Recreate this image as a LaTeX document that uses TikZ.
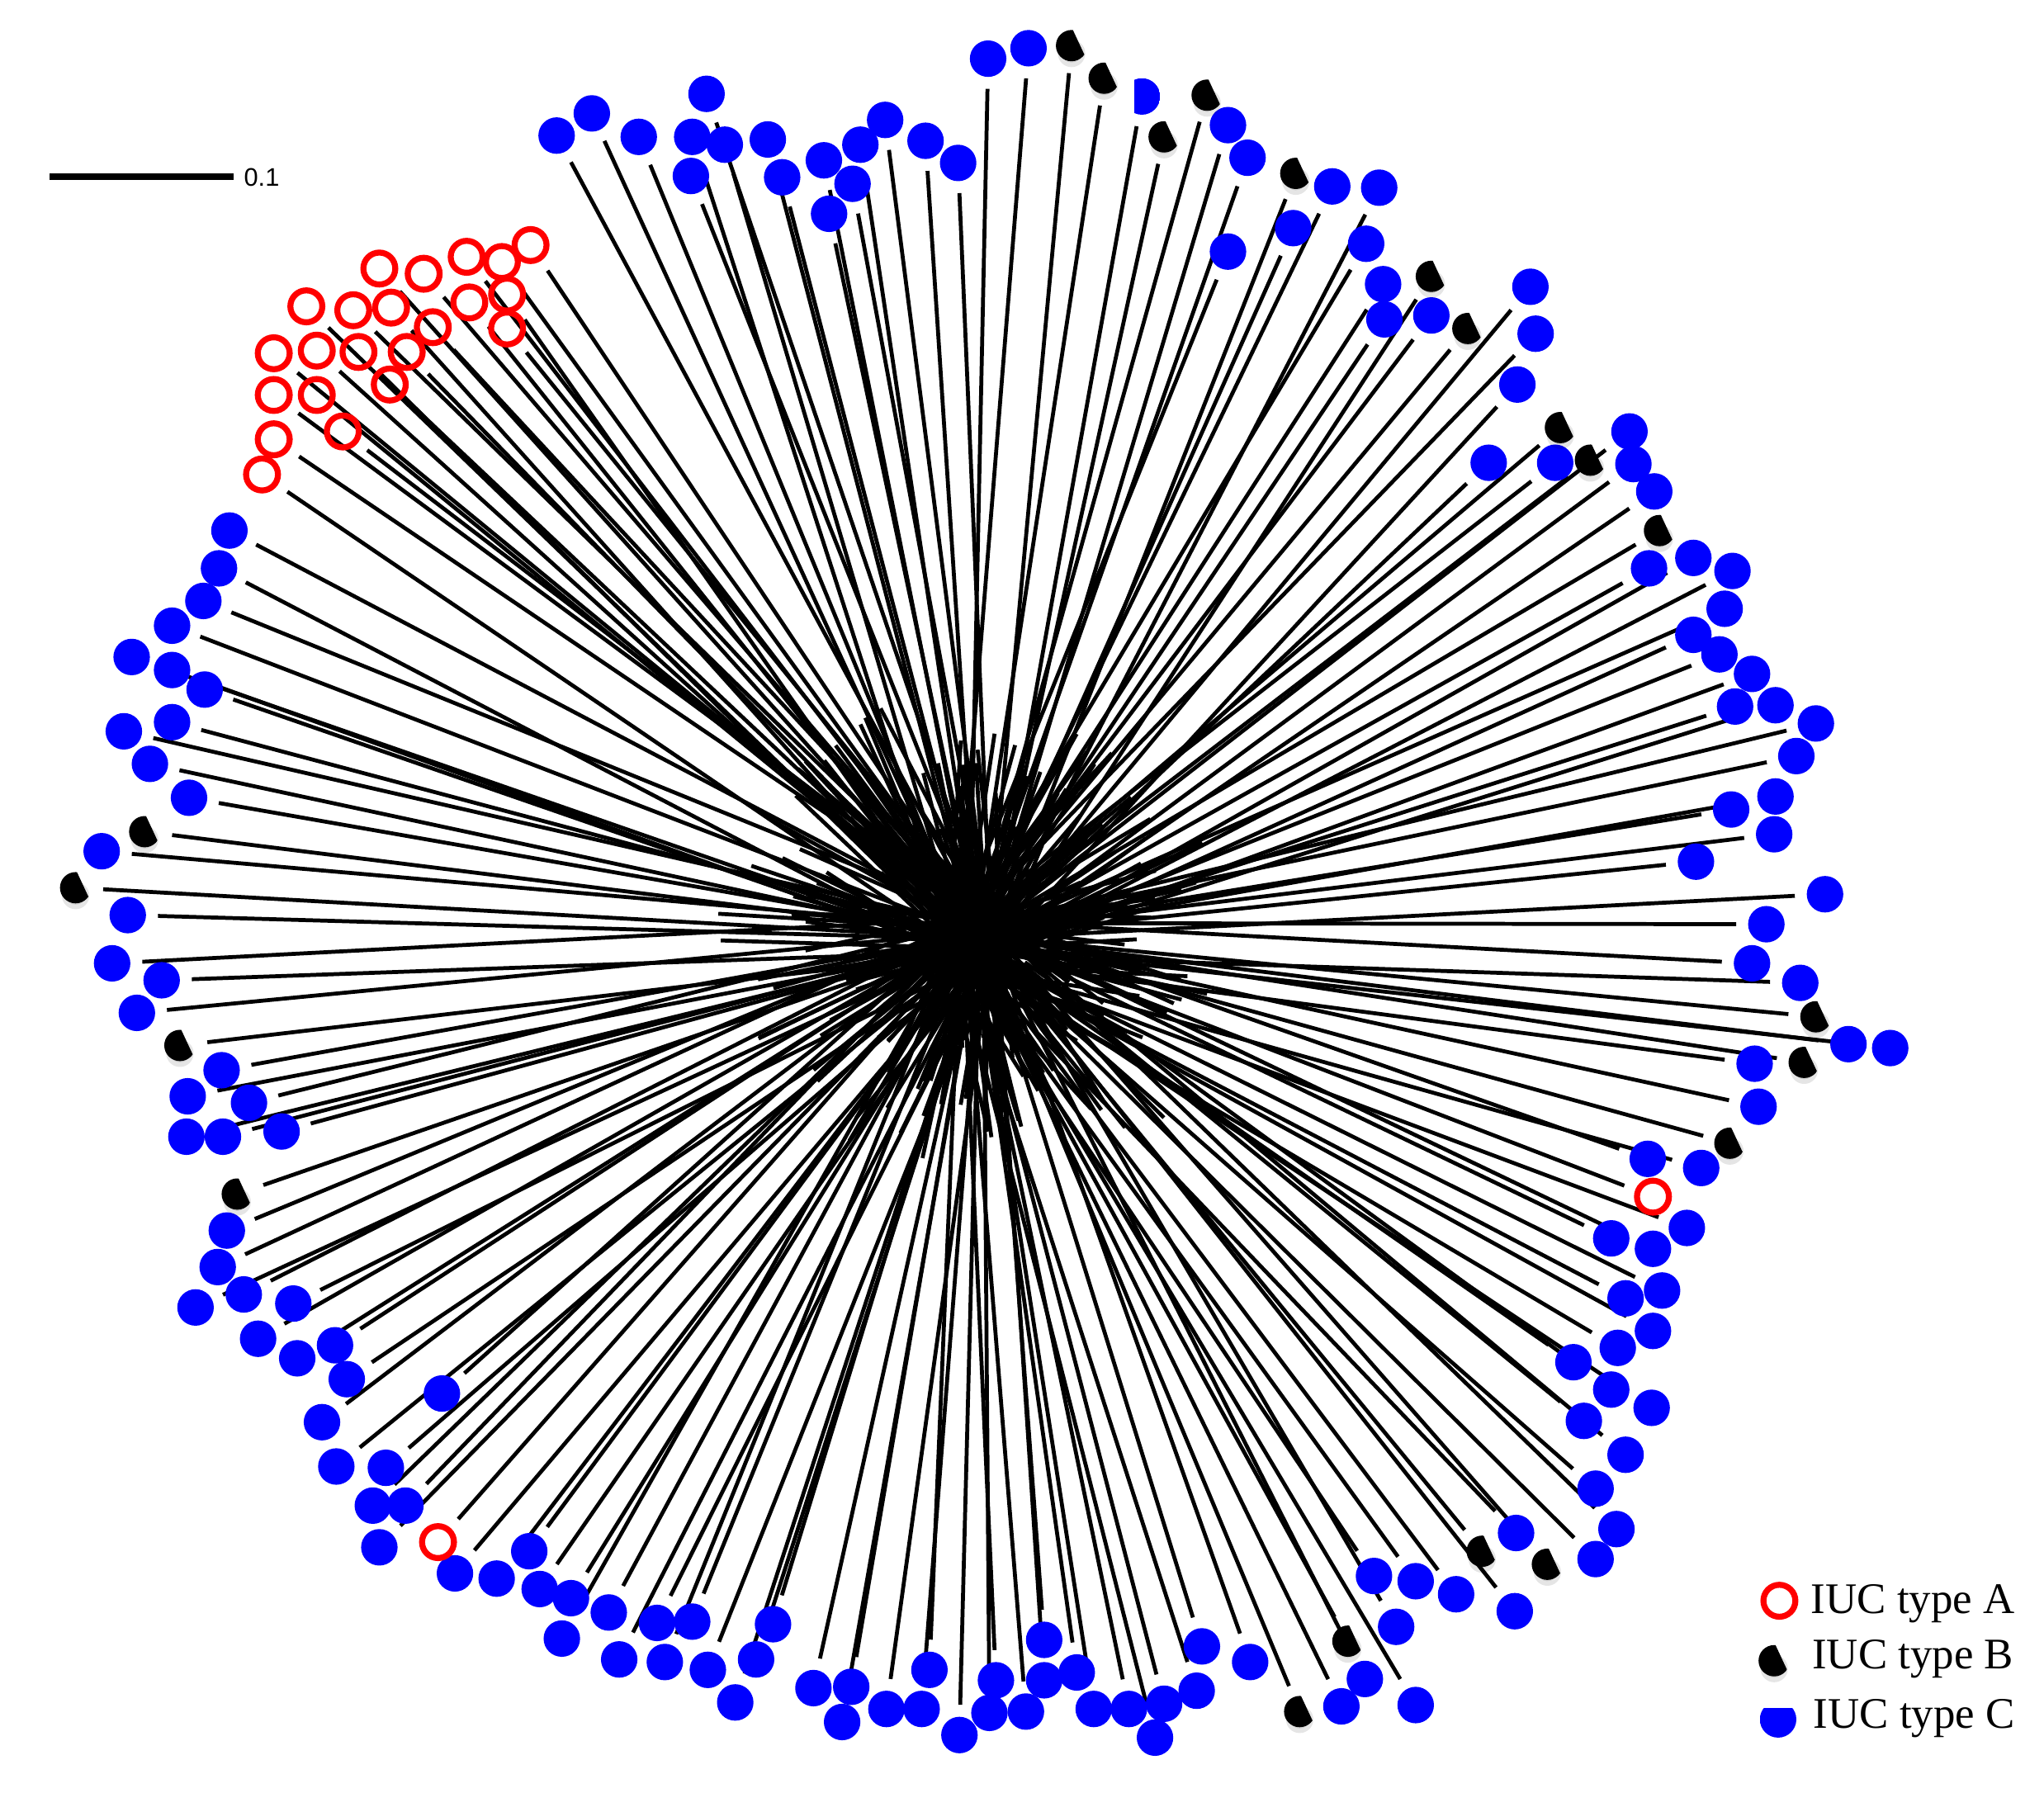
\documentclass[tikz,border=0pt]{standalone}
\usepackage{fontspec}
\setmainfont{Liberation Serif}
\newfontfamily\labsans{Liberation Sans}
\usetikzlibrary{calc}
\pgfdeclarelayer{background}
\pgfsetlayers{background,main}
\definecolor{blueC}{RGB}{0,0,255}
\definecolor{redA}{RGB}{255,0,0}
\tikzset{
  typeA/.style={circle,draw=redA,line width=4.6pt,minimum size=24.5pt,inner sep=0pt},
  typeC/.style={circle,fill=blueC,minimum size=28pt,inner sep=0pt},
  typeB/.style={circle,minimum size=24pt,inner sep=0pt,
    path picture={\fill[black]
      ($(path picture bounding box.center)+(85:12pt)$) --
      ($(path picture bounding box.center)+(-35:12pt)$) --
      ($(path picture bounding box.center)+(-80:40pt)$) --
      ($(path picture bounding box.center)+(200:40pt)$) --
      ($(path picture bounding box.center)+(140:40pt)$) -- cycle;}},
  typeCD/.style={circle,minimum size=28pt,inner sep=0pt,
    path picture={\fill[blueC] ([xshift=-6pt]path picture bounding box.south) rectangle (path picture bounding box.north east);}},
  typeCtop/.style={circle,minimum size=28pt,inner sep=0pt,
    path picture={\fill[blueC] (path picture bounding box.south west) rectangle ([yshift=-5pt]path picture bounding box.north east);}},
  shadowB/.style={fill=black,opacity=0.10},
  branch/.style={line width=3pt,shorten >=9pt},
  webline/.style={line width=3pt},
  legtext/.style={anchor=base west,inner sep=0pt,font=\fontsize{33.5}{40}\selectfont}
}
\newcommand\leafline[1]{%
  \pgfmathsetmacro\fa{-0.08+0.16*rnd}%
  \pgfmathsetmacro\da{18*rand}%
  \pgfmathsetmacro\fb{-0.04+0.08*rnd}%
  \pgfmathsetmacro\fc{0.1+0.2*rnd}%
  \pgfmathsetmacro\db{\da+(rand>0?7:-7)}%
  \begin{pgfonlayer}{background}
    \draw[branch] ($(ctr)!\fa!(#1)!\da pt!90:(#1)$) -- (#1);
    \draw[webline] ($(ctr)!\fb!(#1)!\db pt!90:(#1)$) -- ($(ctr)!\fc!(#1)!\db pt!90:(#1)$);
  \end{pgfonlayer}}
\begin{document}
\begin{tikzpicture}[x=1pt,y=-1pt]
\useasboundingbox (0,0) rectangle (1568,1375);
\coordinate (ctr) at (748,722);
\pgfmathsetseed{7}
% type C leaves
\foreach \x/\y [count=\i] in {758/45, 789/37, 942/96, 957/121, 1022/143, 1058/144, 942/193, 992/175, 1048/187, 1061/218, 1062/245, 1098/242, 1174/220, 1178/256, 1164/295, 1142/355, 1193/355, 1250/331, 1253/356, 1269/377, 1265/436, 1299/428, 1329/438, 1323/467, 1299/487, 1319/502, 1344/517, 1331/542, 1362/541, 1393/555, 1378/580, 1362/611, 1328/621, 1361/640, 1301/661, 1400/686, 1355/709, 1344/739, 1381/754, 1418/801, 1450/804, 1346/816, 1349/849, 1305/896, 1264/889, 1294/942, 1236/950, 1268/958, 1275/990, 1247/996, 1268/1021, 1241/1034, 1207/1045, 1236/1066, 1267/1080, 1215/1090, 1247/1116, 1224/1142, 1240/1173, 1224/1196, 1163/1176, 1162/1236, 1117/1223, 1086/1213, 1054/1209, 1071/1248, 1047/1288, 1086/1308, 1029/1309, 959/1275, 922/1263, 918/1297, 893/1307, 886/1333, 866/1311, 839/1311, 826/1283, 801/1258, 801/1289, 787/1313, 759/1314, 764/1289, 736/1331, 713/1281, 707/1311, 680/1311, 646/1321, 653/1294, 624/1295, 593/1246, 580/1273, 564/1306, 543/1281, 531/1244, 504/1245, 510/1275, 475/1273, 467/1237, 438/1226, 431/1257, 414/1219, 406/1190, 381/1211, 349/1207, 291/1187, 286/1155, 311/1155, 296/1126, 258/1125, 247/1091, 266/1058, 257/1032, 228/1042, 198/1027, 225/1000, 187/993, 150/1003, 167/972, 174/944, 216/868, 191/846, 171/872, 143/872, 170/821, 144/841, 105/777, 124/752, 86/739, 98/702, 78/653, 145/612, 115/586, 95/561, 132/554, 157/529, 132/514, 101/504, 132/480, 156/461, 168/436, 176/407, 339/1069, 427/104, 454/87, 490/105, 542/72, 531/105, 556/111, 589/107, 530/135, 600/136, 632/123, 660/111, 679/92, 654/141, 636/164, 710/108, 735/125}{
  \node[typeC] (c\i) at (\x,\y) {};
  \leafline{c\i}
}
\node[typeCD] (cd) at (876,74) {};
\leafline{cd}
% type A leaves
\foreach \x/\y [count=\i] in {407/188, 385/201, 358/197, 325/210, 291/206, 389/226, 360/232, 389/252, 332/251, 300/236, 271/238, 235/235, 312/270, 275/270, 243/269, 210/271, 299/295, 243/303, 210/303, 263/331, 210/337, 201/364, 1268/918, 336/1183}{
  \node[typeA] (a\i) at (\x,\y) {};
  \leafline{a\i}
}
% type B leaves
\foreach \x/\y [count=\i] in {822/35, 847/60, 926/73, 893/105, 994/133, 1098/212, 1126/252, 1197/328, 1220/353, 1273/407, 1393/780, 1384/815, 1327/877, 1137/1190, 1187/1200, 1034/1259, 997/1313, 111/638, 58/681, 138/802, 182/916}{
  \fill[shadowB] ([yshift=-6pt]\x,\y) circle[radius=10.5pt];
  \fill[shadowB] ([yshift=-5pt]\x,\y) circle[radius=8pt];
  \node[typeB] (b\i) at (\x,\y) {};
  \leafline{b\i}
}
% scale bar
\coordinate (sb1) at (38,135.6);
\coordinate (sb2) at (179,135.6);
\draw[line width=5.5pt] (sb1) -- (sb2);
\node[anchor=base west,inner sep=0pt,font=\labsans\fontsize{19.5}{22}\selectfont] (sbl) at (187,142.5) {0.1};
% legend
\node[typeA] (legA) at (1365,1228) {};
\node[legtext] (tA) at (1389,1237.5) {IUC type A};
\fill[shadowB] ([yshift=-6pt]1361,1274) circle[radius=10.5pt];
\fill[shadowB] ([yshift=-5pt]1361,1274) circle[radius=8pt];
\node[typeB] (legB) at (1361,1274) {};
\node[legtext] (tB) at (1390,1280) {IUC type B};
\node[typeCtop] (legC) at (1364,1319) {};
\node[legtext] (tC) at (1391,1325.7) {IUC type C};
\end{tikzpicture}
\end{document}
